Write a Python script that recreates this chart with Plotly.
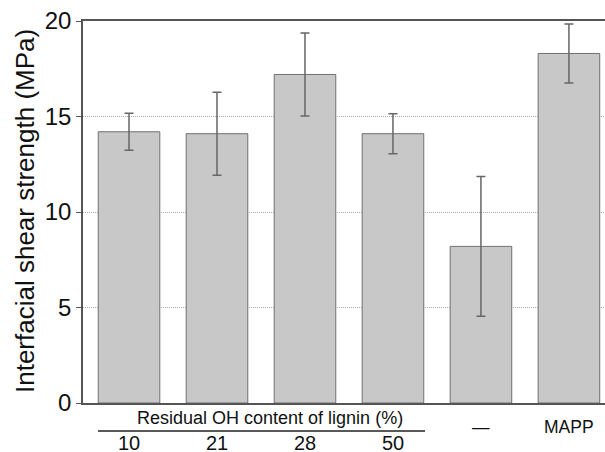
import plotly.graph_objects as go

labels = ["10", "21", "28", "50", "—", "MAPP"]
values = [14.2, 14.1, 17.2, 14.1, 8.2, 18.3]
errors = [0.97, 2.17, 2.17, 1.05, 3.66, 1.54]
group_title = "Residual OH content of lignin (%)"
y_title = "Interfacial shear strength (MPa)"
y_ticks = [0, 5, 10, 15, 20]

FONT = "Liberation Sans, Arial, Helvetica, sans-serif"
xs = list(range(len(labels)))

fig = go.Figure()
fig.add_trace(go.Bar(
    x=xs, y=values, width=0.7,
    marker=dict(color="#c8c8c8", line=dict(color="#707070", width=1)),
    error_y=dict(type="data", array=errors, visible=True,
                 color="#666666", thickness=1.5, width=4.5),
    showlegend=False,
))

fig.update_layout(
    width=605, height=452,
    margin=dict(l=83, r=0, t=21, b=49),
    paper_bgcolor="white", plot_bgcolor="white",
    font=dict(family=FONT, color="#111111"),
    xaxis=dict(range=[-0.523, 5.41], showticklabels=False, ticks="",
               showgrid=False, zeroline=False, automargin=False,
               showline=True, linecolor="#555555", linewidth=2, mirror=True),
    yaxis=dict(range=[0, 20], tickvals=y_ticks, ticks="outside", ticklen=5,
               tickcolor="#555555", tickwidth=1, automargin=False,
               tickfont=dict(size=24, family=FONT, color="#111111"),
               showgrid=True, gridcolor="#aaaaaa", griddash="1px,1px", gridwidth=1,
               zeroline=False, showline=True, linecolor="#555555", linewidth=1.5),
)

annotations = []
annotations.append(dict(text=y_title, textangle=-90, xref="paper", yref="paper",
                        x=(25 - 83) / 522, y=(403 - 211) / 382,
                        xanchor="center", yanchor="middle", showarrow=False,
                        font=dict(size=26, family=FONT, color="#111111")))
annotations.append(dict(text=group_title, xref="x", yref="paper", x=1.607, y=0,
                        yanchor="middle", xanchor="center", yshift=-15, showarrow=False,
                        font=dict(size=18, family=FONT, color="#111111")))
for i, lab in enumerate(labels):
    if i < 4:
        annotations.append(dict(text=lab, xref="x", yref="paper", x=i, y=0,
                                yanchor="middle", xanchor="center", yshift=-40,
                                showarrow=False,
                                font=dict(size=20, family=FONT, color="#111111")))
    else:
        annotations.append(dict(text=lab, xref="x", yref="paper", x=i, y=0,
                                yanchor="middle", xanchor="center", yshift=-24,
                                showarrow=False,
                                font=dict(size=17.5, family=FONT, color="#111111")))
fig.update_layout(annotations=annotations)

fig.add_shape(type="line", xref="paper", yref="paper",
              x0=(98 - 83) / 522, x1=(425 - 83) / 522,
              y0=-28 / 382, y1=-28 / 382,
              line=dict(color="#222222", width=1.5))

fig.write_html("out.html", config={"displayModeBar": False},
               post_script="document.body.style.margin='0';document.body.style.overflow='hidden';")
